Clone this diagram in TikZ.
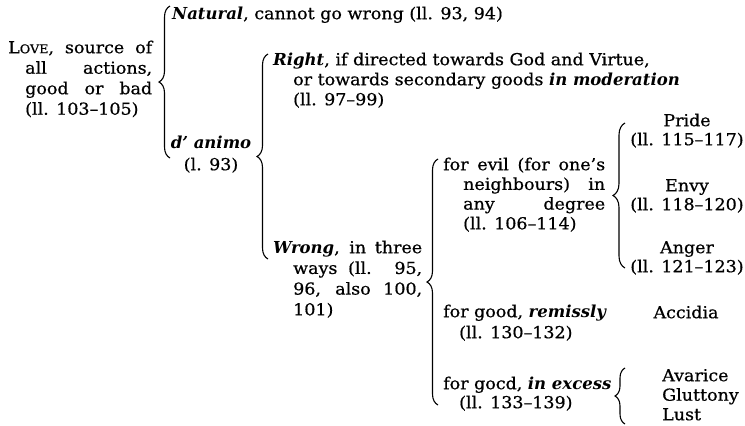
\documentclass[tikz,border=0pt]{standalone}
\usepackage{fontspec}
\setmainfont{DejaVu Serif}[UprightFeatures={FakeStretch=1.06,FakeBold=0.6}]
\usetikzlibrary{decorations.pathreplacing}
\newcommand{\jl}[2]{\makebox[#1][s]{#2}}
\newcommand{\fst}{\rule{0pt}{13pt}}
\newcommand{\bi}[1]{\textbf{\textit{#1}}}
\begin{document}
\begin{tikzpicture}[x=1pt,y=-1pt,
  txt/.style={anchor=north west,inner sep=0pt,align=left,font=\fontsize{16.5}{20}\selectfont},
  ctr/.style={anchor=north,inner sep=0pt,align=center,font=\fontsize{16.5}{19}\selectfont},
  brc/.style={decorate,decoration={brace,amplitude=11pt},line width=1.1pt}]
\useasboundingbox[fill=white] (0,0) rectangle (745,426);

% texts
\node[txt] (nat) at (172,6) {\fst\bi{Natural}, cannot go wrong (ll. 93, 94)};
\node[txt,font=\fontsize{16.5}{20.5}\selectfont] (love) at (8,40)
  {\fst\jl{144pt}{L{\fontsize{12}{12}\selectfont OVE}, source of}\\
   \hspace*{17pt}\jl{127pt}{all actions,}\\
   \hspace*{17pt}\jl{127pt}{good or bad}\\
   \hspace*{17pt}(ll. 103--105)};
\node[ctr,font=\fontsize{16.5}{22}\selectfont] (animo) at (211,135) {\fst\bi{d' animo}\\(l. 93)};
\node[txt] (right) at (273,52)
  {\fst\bi{Right}, if directed towards God and Virtue,\\
   \hspace*{20pt}or towards secondary goods \bi{in moderation}\\
   \hspace*{20pt}(ll. 97--99)};
\node[txt,font=\fontsize{16.5}{20.7}\selectfont] (wrong) at (273,240)
  {\fst\jl{149pt}{\bi{Wrong}, in three}\\
   \hspace*{20pt}\jl{129pt}{ways (ll. 95,}\\
   \hspace*{20pt}\jl{129pt}{96, also 100,}\\
   \hspace*{20pt}101)};
\node[txt,font=\fontsize{16.5}{19.7}\selectfont] (evil) at (443,157)
  {\fst\jl{162pt}{for evil (for one's}\\
   \hspace*{20pt}\jl{142pt}{neighbours) in}\\
   \hspace*{20pt}\jl{142pt}{any degree}\\
   \hspace*{20pt}(ll. 106--114)};
\node[txt,font=\fontsize{16.5}{21}\selectfont] (remiss) at (443,304)
  {\fst for good, \bi{remissly}\\ \hspace*{16pt}(ll. 130--132)};
\node[txt,font=\fontsize{16.5}{19}\selectfont] (excess) at (443,376)
  {\fst for gocd, \bi{in excess}\\ \hspace*{16pt}(ll. 133--139)};
\node[ctr] (pride) at (687,113) {\fst Pride\\(ll. 115--117)};
\node[ctr] (envy) at (687,178) {\fst Envy\\(ll. 118--120)};
\node[ctr] (anger) at (687,240) {\fst Anger\\(ll. 121--123)};
\node[ctr] (accidia) at (686,305) {\fst Accidia};
\node[txt,font=\fontsize{16.5}{19.5}\selectfont] (sins) at (662,368) {\fst Avarice\\Gluttony\\Lust};

% brace ends
\coordinate (b1s) at (170,158); \coordinate (b1e) at (170,6);
\coordinate (b2s) at (268,259); \coordinate (b2e) at (268,54);
\coordinate (b3s) at (438,405); \coordinate (b3e) at (438,159);
\coordinate (b4s) at (625,268); \coordinate (b4e) at (625,123);
\coordinate (b5s) at (625,424); \coordinate (b5e) at (625,368);

\draw[brc] (b1s) -- (b1e);
\draw[brc] (b2s) -- (b2e);
\draw[brc] (b3s) -- (b3e);
\draw[brc,decoration={amplitude=12pt}] (b4s) -- (b4e);
\draw[brc,decoration={amplitude=10pt}] (b5s) -- (b5e);
\end{tikzpicture}
\end{document}
